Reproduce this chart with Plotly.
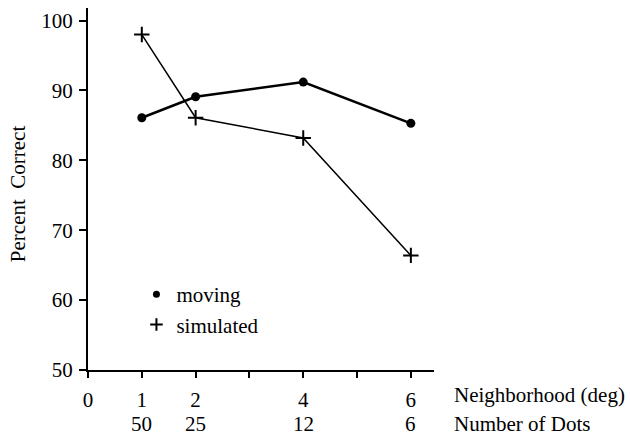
import plotly.graph_objects as go

# Neighborhood size (deg) and the matching number of dots
neighborhood = [1, 2, 4, 6]
num_dots = ["50", "25", "12", "6"]

# Percent correct for each condition
moving = [86.1, 89.1, 91.2, 85.3]
simulated = [98.0, 86.1, 83.2, 66.4]

# Axis ticks
x_tickvals = [0, 1, 2, 3, 4, 5, 6]
x_ticktext = ["0", "1", "2", "", "4", "", "6"]
y_tickvals = [50, 60, 70, 80, 90, 100]

FONT = "Liberation Serif, Times New Roman, serif"
FS = 21

fig = go.Figure()

fig.add_trace(go.Scatter(
    x=neighborhood, y=moving, mode="lines+markers", name="moving",
    line=dict(color="black", width=2.5),
    marker=dict(symbol="circle", size=9, color="black"),
    showlegend=False,
))
fig.add_trace(go.Scatter(
    x=neighborhood, y=simulated, mode="lines+markers", name="simulated",
    line=dict(color="black", width=1.5),
    marker=dict(symbol="cross-thin", size=11, line=dict(color="black", width=2)),
    showlegend=False,
))

# legend entries: symbol only
fig.add_trace(go.Scatter(
    x=[None], y=[None], mode="markers", name="moving",
    marker=dict(symbol="circle", size=7, color="black"),
))
fig.add_trace(go.Scatter(
    x=[None], y=[None], mode="markers", name="simulated",
    marker=dict(symbol="cross-thin", size=9, line=dict(color="black", width=2)),
))

# second row of x labels: number of dots
ROW2_Y = -0.150
for xv, txt in zip(neighborhood, num_dots):
    fig.add_annotation(x=xv, xref="x", y=ROW2_Y, yref="paper", text=txt,
                       showarrow=False, xanchor="center", yanchor="middle",
                       font=dict(family=FONT, size=FS, color="black"))

fig.add_annotation(x=1.052, xref="paper", y=-0.069, yref="paper",
                   text="Neighborhood (deg)", showarrow=False,
                   xanchor="left", yanchor="middle",
                   font=dict(family=FONT, size=FS, color="black"))
fig.add_annotation(x=1.052, xref="paper", y=ROW2_Y, yref="paper",
                   text="Number of Dots", showarrow=False,
                   xanchor="left", yanchor="middle",
                   font=dict(family=FONT, size=FS, color="black"))
fig.add_annotation(x=-0.202, xref="paper", y=0.486, yref="paper",
                   text="Percent  Correct", textangle=-90, showarrow=False,
                   xanchor="center", yanchor="middle",
                   font=dict(family=FONT, size=FS, color="black"))

fig.update_layout(
    width=630, height=438,
    margin=dict(l=88, r=196, t=8, b=68),
    paper_bgcolor="white", plot_bgcolor="white",
    font=dict(family=FONT, size=FS, color="black"),
    legend=dict(x=0.14, y=0.265, xanchor="left", yanchor="top",
                bgcolor="rgba(0,0,0,0)", borderwidth=0,
                font=dict(family=FONT, size=FS, color="black"),
                tracegroupgap=0, itemwidth=30),
    xaxis=dict(range=[0, 6.43], tickmode="array", tickvals=x_tickvals,
               ticktext=x_ticktext, ticks="outside", ticklen=6, tickwidth=1.5,
               tickcolor="black", showline=True, linecolor="black",
               linewidth=2, showgrid=False, zeroline=False,
               ticklabelstandoff=4),
    yaxis=dict(range=[50, 101.8], tickmode="array", tickvals=y_tickvals,
               ticks="outside", ticklen=7, tickwidth=1.5, tickcolor="black",
               showline=True, linecolor="black", linewidth=2,
               showgrid=False, zeroline=False, ticklabelstandoff=2),
)

fig.write_html("out.html")
